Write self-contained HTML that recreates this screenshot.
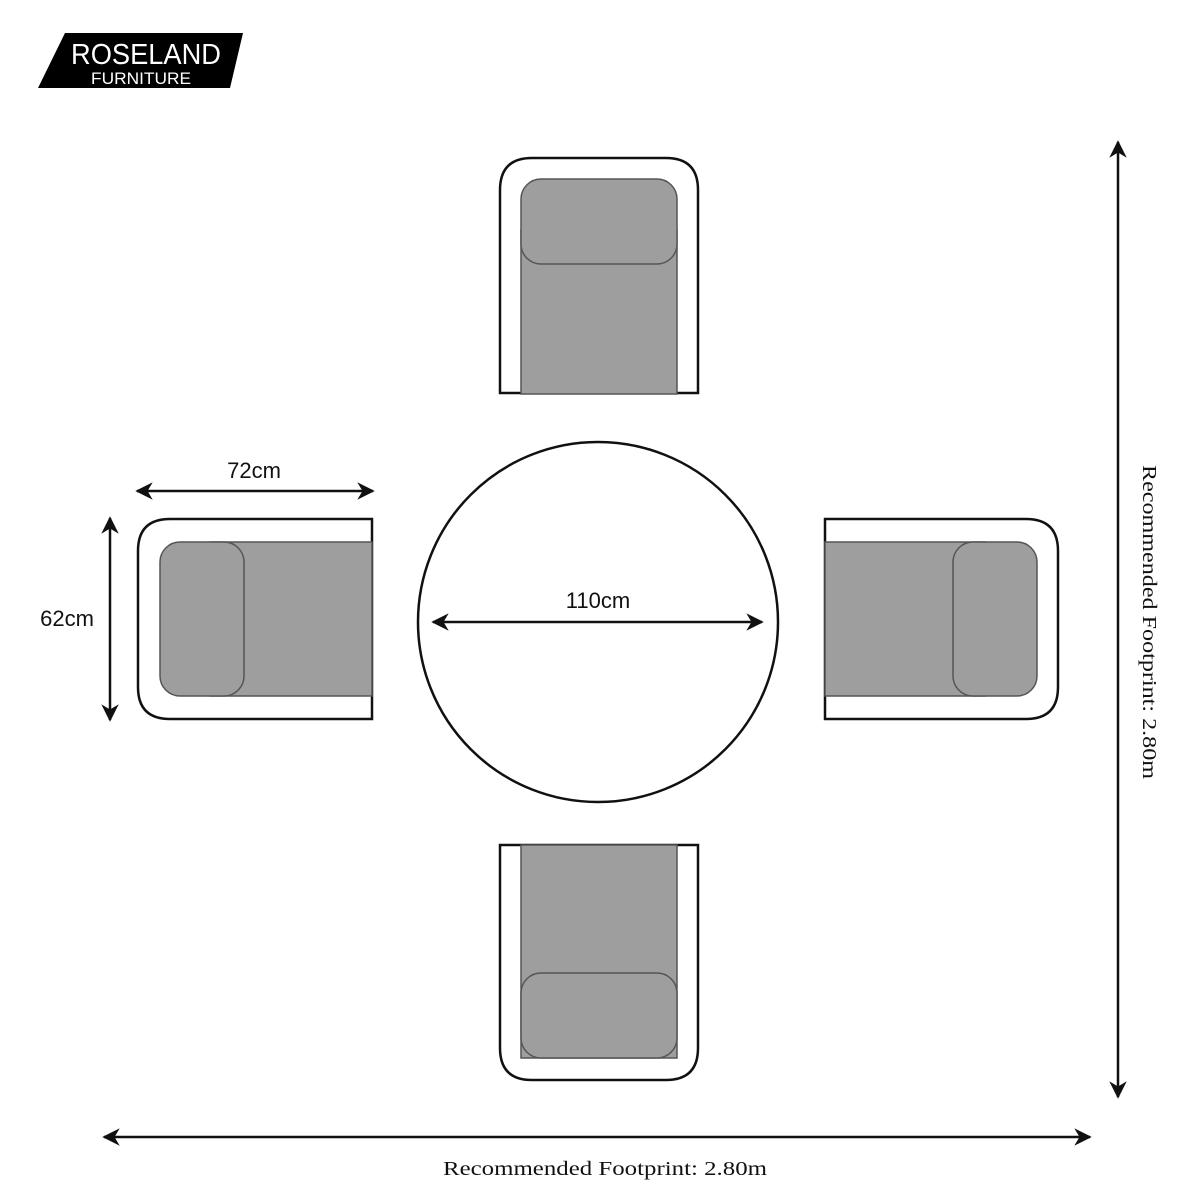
<!DOCTYPE html>
<html><head><style>body{margin:0;background:#fff}svg{display:block}</style></head><body>
<svg width="1200" height="1200" viewBox="0 0 1200 1200" xmlns="http://www.w3.org/2000/svg">
<defs><marker id="a" viewBox="0 0 10 10" refX="9" refY="5" markerWidth="7" markerHeight="7" orient="auto-start-reverse"><path d="M0,0 L10,5 L0,10 L3,5z" fill="#111"/></marker></defs>
<polygon points="65,33 243,33 230,88 38,88" fill="#000"/>
<text x="146" y="64" font-family="Liberation Sans, sans-serif" font-size="29" fill="#fff" text-anchor="middle" textLength="150" lengthAdjust="spacingAndGlyphs">ROSELAND</text>
<text x="141" y="84" font-family="Liberation Sans, sans-serif" font-size="17" fill="#fff" text-anchor="middle" textLength="100" lengthAdjust="spacingAndGlyphs">FURNITURE</text>
<g stroke="#111" stroke-width="2.5" fill="none">
<path d="M500,393 V190 Q500,158 532,158 H666 Q698,158 698,190 V393 Z" fill="#fff"/>
<path d="M500,845 V1048 Q500,1080 532,1080 H666 Q698,1080 698,1048 V845 Z" fill="#fff"/>
<path d="M372,519 H170 Q138,519 138,551 V687 Q138,719 170,719 H372 Z" fill="#fff"/>
<path d="M825,519 H1026 Q1058,519 1058,551 V687 Q1058,719 1026,719 H825 Z" fill="#fff"/>
<circle cx="598" cy="622" r="180" fill="#fff"/>
</g>
<g fill="#9e9e9e" stroke="#555" stroke-width="1.5">
<rect x="521" y="230" width="156" height="164"/>
<rect x="521" y="179" width="156" height="85" rx="20"/>
<rect x="521" y="845" width="156" height="213"/>
<rect x="521" y="973" width="156" height="85" rx="20"/>
<rect x="210" y="542" width="162" height="154"/>
<rect x="160" y="542" width="84" height="154" rx="20"/>
<rect x="825" y="542" width="160" height="154"/>
<rect x="953" y="542" width="84" height="154" rx="20"/>
</g>
<g stroke="#111" stroke-width="2.5" marker-start="url(#a)" marker-end="url(#a)">
<line x1="137" y1="491" x2="373" y2="491"/>
<line x1="110" y1="518" x2="110" y2="720"/>
<line x1="433" y1="622" x2="762" y2="622"/>
<line x1="1118" y1="142" x2="1118" y2="1097"/>
<line x1="104" y1="1137" x2="1090" y2="1137"/>
</g>
<g font-family="Liberation Sans, sans-serif" font-size="22" fill="#111" text-anchor="middle">
<text x="254" y="478">72cm</text>
<text x="67" y="626">62cm</text>
<text x="598" y="608">110cm</text>
</g>
<g font-family="Liberation Serif, serif" font-size="20" fill="#111" text-anchor="middle">
<text x="605" y="1175" textLength="324" lengthAdjust="spacingAndGlyphs">Recommended Footprint: 2.80m</text>
<text transform="translate(1143,622) rotate(90)" textLength="314" lengthAdjust="spacingAndGlyphs">Recommended Footprint: 2.80m</text>
</g>
</svg>
</body></html>
